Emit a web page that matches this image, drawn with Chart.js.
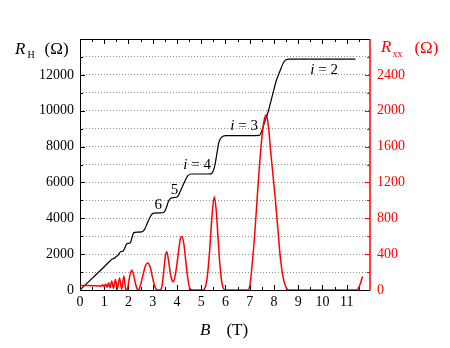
<!DOCTYPE html>
<html>
<head>
<meta charset="utf-8">
<script src="https://cdn.jsdelivr.net/npm/chart.js@4/dist/chart.umd.min.js"></script>
<style>
html,body{margin:0;padding:0;background:#fff;}
#wrap{width:450px;height:348px;position:relative;}
</style>
</head>
<body>
<div id="wrap"><canvas id="c"></canvas></div>
<script>
// Hall resistance R_H (Ohm) vs B (T)
const hallB = [0,0.5,1.0,1.25,1.35,1.42,1.5,1.57,1.62,1.7,1.78,1.85,1.92,2.0,2.08,2.15,2.22,2.35,2.55,2.65,2.8,2.95,3.05,3.3,3.45,3.55,3.65,3.75,3.9,4.02,4.15,4.3,4.45,4.58,5.0,5.4,5.5,5.58,5.65,5.72,5.8,5.88,6.0,7.0,7.4,7.48,7.56,7.65,7.75,7.85,7.99,8.1,8.2,8.3,8.4,8.5,8.6,9.5,11.36];
const hallR = [0,650,1300,1630,1740,1770,1880,1930,2060,2150,2180,2350,2560,2600,2640,2950,3200,3230,3240,3350,3800,4200,4290,4300,4320,4550,4950,5130,5160,5200,5550,6000,6380,6470,6470,6480,6650,7080,7650,8200,8450,8560,8610,8610,8620,8800,9150,9500,9900,10400,11150,11700,12050,12400,12700,12840,12880,12880,12880];
// Longitudinal resistance R_xx (Ohm) vs B (T)
const rxxB = [0,0.3,0.6,0.8,0.86,0.93,0.99,1.06,1.12,1.18,1.24,1.31,1.38,1.46,1.54,1.63,1.72,1.81,1.89,1.95,2.02,2.08,2.13,2.2,2.28,2.35,2.42,2.5,2.6,2.7,2.8,2.9,3.0,3.1,3.2,3.3,3.38,3.45,3.52,3.58,3.65,3.73,3.8,3.86,3.95,4.05,4.13,4.2,4.28,4.36,4.45,4.55,4.65,5.05,5.15,5.25,5.35,5.45,5.54,5.62,5.7,5.78,5.86,5.95,6.05,6.9,7.0,7.07,7.2,7.3,7.4,7.5,7.6,7.69,7.78,7.88,7.97,8.06,8.17,8.27,8.4,8.5,8.6,11.42,11.5,11.58,11.65];
const rxxR = [50,50,48,45,42,58,36,66,30,82,25,100,18,118,12,135,8,155,5,10,110,190,220,180,80,15,0,60,170,270,300,250,130,30,0,0,40,200,380,428,330,180,105,93,200,400,560,596,520,330,120,10,0,0,20,150,450,850,1040,880,550,250,70,5,0,0,40,200,600,1000,1380,1700,1900,1955,1800,1500,1250,1000,650,340,110,30,0,0,30,85,150];
// Tick labels
const xTickLabels = [0,1,2,3,4,5,6,7,8,9,10,11];
const hallTickLabels = [0,2000,4000,6000,8000,10000,12000];
const rxxTickLabels = [0,400,800,1200,1600,2000,2400];

const SERIF = '"Liberation Serif","DejaVu Serif",serif';
const RED = '#ff0000';

function seg(ctx,x1,y1,x2,y2){ctx.beginPath();ctx.moveTo(x1,y1);ctx.lineTo(x2,y2);ctx.stroke();}
function rich(ctx, parts, x, color){
  ctx.fillStyle = color; ctx.textBaseline='alphabetic'; ctx.textAlign='left';
  for(const p of parts){
    ctx.font = p.f;
    ctx.fillText(p.t, x + (p.dx||0), p.y);
    x += (p.dx||0) + ctx.measureText(p.t).width;
  }
}

const framePlugin = {
  id:'frame',
  beforeDatasetsDraw(chart){
    const {ctx, chartArea:a, scales} = chart;
    const x = scales.x, y = scales.y, y2 = scales.y2;
    ctx.save();
    ctx.lineWidth = 1; ctx.strokeStyle = '#000';
    for(let i=0;i<=23;i++){
      const v = i*0.5;
      const px = Math.round(x.getPixelForValue(v))+0.5;
      const L = (i%2===0)?5:3;
      seg(ctx,px,a.bottom,px,a.bottom-L);
      seg(ctx,px,a.top,px,a.top+L);
    }
    for(let i=0;i<=14;i++){
      const py = Math.round(y.getPixelForValue(i*1000))+0.5;
      const L = (i%2===0)?5:3;
      seg(ctx,a.left,py,a.left+L,py);
    }
    ctx.strokeStyle = RED;
    for(let i=0;i<=14;i++){
      const py = Math.round(y2.getPixelForValue(i*200))+0.5;
      const L = (i%2===0)?5:3;
      seg(ctx,a.right,py,a.right-L,py);
    }
    ctx.strokeStyle = '#000'; ctx.lineWidth = 1;
    const l = Math.round(a.left)+0.5, t = Math.round(a.top)+0.5, b = Math.round(a.bottom)+0.5, r = Math.round(a.right);
    seg(ctx,l,t,l,b); seg(ctx,l,t,r,t); seg(ctx,l,b,r,b);
    ctx.strokeStyle = RED; ctx.lineWidth = 1.5;
    seg(ctx,r,a.top,r,a.bottom+0.5);
    ctx.restore();
  },
  afterDraw(chart){
    const {ctx, scales} = chart;
    const x = scales.x, y = scales.y;
    ctx.save();
    const it17 = 'italic 17px '+SERIF, rm17 = '17px '+SERIF, sub = '10px '+SERIF;
    rich(ctx,[{t:'R',f:it17,y:53.5},{t:'H',f:sub,y:57.5,dx:2},{t:'(Ω)',f:rm17,y:54,dx:10}],15,'#000');
    rich(ctx,[{t:'R',f:it17,y:52},{t:'xx',f:sub,y:56.5,dx:1},{t:'(Ω)',f:rm17,y:53,dx:12}],381,RED);
    rich(ctx,[{t:'B',f:it17,y:335},{t:'(T)',f:rm17,y:335,dx:16}],200,'#000');
    const it15 = 'italic 15px '+SERIF, rm15 = '15px '+SERIF;
    const ann = (txt, bx, ry, label) => {
      const px = x.getPixelForValue(bx), py = y.getPixelForValue(ry);
      if(label) rich(ctx,[{t:'i',f:it15,y:py},{t:' = '+txt,f:rm15,y:py}],px,'#000');
      else rich(ctx,[{t:txt,f:rm15,y:py}],px,'#000');
    };
    ann('2', 9.5, 12050, true);
    ann('3', 6.2, 8950, true);
    ann('4', 4.26, 6750, true);
    ann('5', 3.74, 5380, false);
    ann('6', 3.07, 4540, false);
    ctx.restore();
  }
};

const toPts = (xs, ys) => xs.map((v,i)=>({x:v, y:ys[i]}));

new Chart(document.getElementById('c'), {
  type:'line',
  data:{
    datasets:[
      {label:'Rxx', data:toPts(rxxB,rxxR), yAxisID:'y2', borderColor:RED, borderWidth:1.5,
       pointRadius:0, cubicInterpolationMode:'monotone', fill:false, order:0},
      {label:'RH', data:toPts(hallB,hallR), yAxisID:'y', borderColor:'#000', borderWidth:1.2,
       pointRadius:0, cubicInterpolationMode:'monotone', fill:false, order:1}
    ]
  },
  options:{
    responsive:true, maintainAspectRatio:false, animation:false, devicePixelRatio:1,
    layout:{padding:{top:39,left:0,right:0,bottom:0}},
    plugins:{legend:{display:false}, tooltip:{enabled:false}},
    scales:{
      x:{type:'linear', position:'bottom', min:0, max:11.96,
        afterFit(s){s.height=58;},
        grid:{display:false, drawTicks:false}, border:{display:false},
        ticks:{stepSize:1, includeBounds:false, autoSkip:false, maxRotation:0, padding:4, color:'#000',
          font:{family:SERIF,size:14},
          callback:v => xTickLabels.includes(v) ? String(v) : ''}},
      y:{type:'linear', position:'left', min:0, max:14000,
        afterFit(s){s.width=80;},
        grid:{color:c => (c.tick && (c.tick.value===0||c.tick.value===14000)) ? 'rgba(0,0,0,0)' : '#8c8c8c',
              lineWidth:1, drawTicks:false},
        border:{display:false, dash:[1,2]},
        ticks:{stepSize:1000, autoSkip:false, padding:6, color:'#000', font:{family:SERIF,size:14},
          callback:v => hallTickLabels.includes(v) ? String(v) : ''}},
      y2:{type:'linear', position:'right', min:0, max:2800,
        afterFit(s){s.width=80;},
        grid:{display:false, drawTicks:false}, border:{display:false},
        ticks:{stepSize:200, autoSkip:false, padding:7, color:RED, font:{family:SERIF,size:14},
          callback:v => rxxTickLabels.includes(v) ? String(v) : ''}}
    }
  },
  plugins:[framePlugin]
});
</script>
</body>
</html>
